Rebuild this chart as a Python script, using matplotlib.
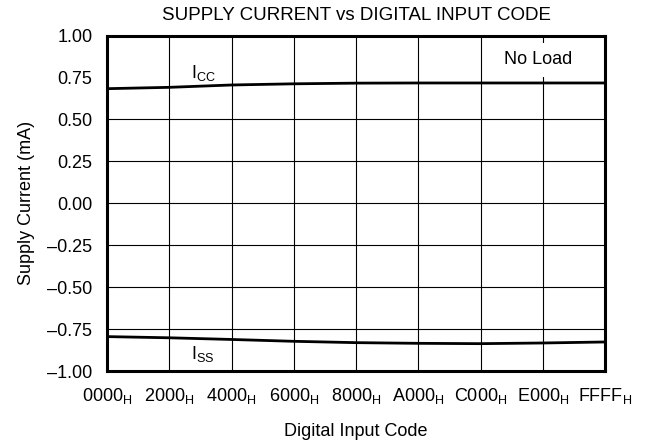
import matplotlib
matplotlib.use("Agg")
import matplotlib.pyplot as plt
import numpy as np

plt.rcParams['font.family'] = ['Liberation Sans', 'DejaVu Sans']
plt.rcParams['mathtext.fontset'] = 'custom'
plt.rcParams['mathtext.rm'] = 'Liberation Sans'

# input codes at each grid line (0000h .. FFFFh)
codes = [0x0000, 0x2000, 0x4000, 0x6000, 0x8000, 0xA000, 0xC000, 0xE000, 0xFFFF]
code_labels = ['0000', '2000', '4000', '6000', '8000', 'A000', 'C000', 'E000', 'FFFF']

# supply currents (mA)
icc = [0.683, 0.691, 0.705, 0.712, 0.716, 0.717, 0.717, 0.717, 0.717]
iss = [-0.795, -0.802, -0.812, -0.823, -0.831, -0.835, -0.837, -0.833, -0.827]

y_ticks = [1.00, 0.75, 0.50, 0.25, 0.00, -0.25, -0.50, -0.75, -1.00]

fs = 13

fig = plt.figure(figsize=(6.5, 4.45), dpi=100)
ax = fig.add_axes([107/650, 1 - 371/445, 498/650, 335.5/445])

ax.plot(codes, icc, color='black', lw=2.0, solid_capstyle='butt', zorder=3)
ax.plot(codes, iss, color='black', lw=2.0, solid_capstyle='butt', zorder=3)

ax.set_xlim(0, 0xFFFF)
ax.set_ylim(-1.0, 1.0)
ax.set_xticks(codes)
ax.set_xticklabels([r'$\mathregular{%s_H}$' % c for c in code_labels])
ax.set_yticks(y_ticks)
ax.set_yticklabels([f'{v:.2f}'.replace('-', '\u2013') for v in y_ticks])
ax.tick_params(length=0, labelsize=fs, colors='black')
ax.tick_params(axis='x', pad=11)
ax.tick_params(axis='y', pad=10.5)

ax.grid(True, color='black', lw=0.8)
# the 0.75 line sits under the Icc trace
ax.get_ygridlines()[1].set_visible(False)
for s in ax.spines.values():
    s.set_linewidth(2.2)

ax.text(11000, 0.747, r'$\mathregular{I_{CC}}$', fontsize=fs, ha='left', va='baseline')
ax.text(11000, -0.930, r'$\mathregular{I_{SS}}$', fontsize=fs, ha='left', va='baseline')
ax.text(52280, 0.828, 'No Load', fontsize=fs, ha='left', va='baseline',
        bbox=dict(facecolor='white', edgecolor='none', pad=6), zorder=4)

ax.set_title('SUPPLY CURRENT vs DIGITAL INPUT CODE', fontsize=13.5, pad=11)
ax.set_xlabel('Digital Input Code', fontsize=fs, labelpad=12)
ax.set_ylabel('Supply Current (mA)', fontsize=fs, labelpad=9)

fig.savefig('out.png', dpi=100)
